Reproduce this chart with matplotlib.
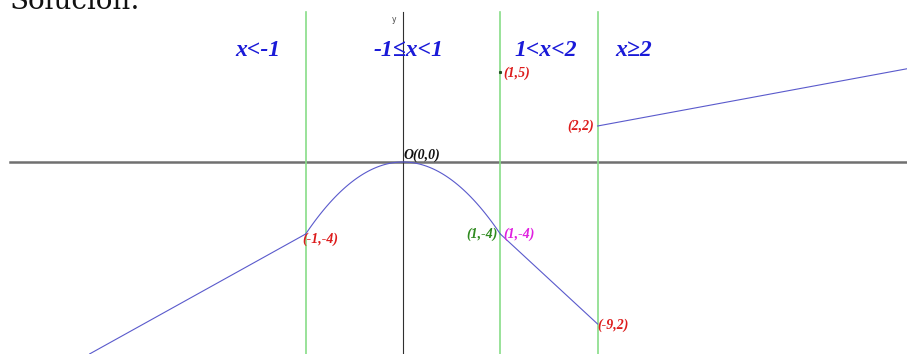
import matplotlib.pyplot as plt
import numpy as np

plt.rcParams["font.family"] = ["Liberation Serif", "DejaVu Serif"]

# piecewise function, key points
x_left = [-3.22, -1.0]          # y = 3x - 1
y_left = [-10.66, -4.0]
x_mid = np.linspace(-1, 1, 101)  # y = -4x^2
x_right = [1.0, 2.0]            # y = -5x + 1
y_right = [-4.0, -9.0]
x_last = [2.0, 5.18]            # y = x
y_last = [2.0, 5.18]
isolated = (1.0, 5.0)

borders = [-1, 1, 2]
interval_labels = ["x<-1", "-1\u2264x<1", "1<x<2", "x\u22652"]
interval_x = [-1.49, 0.06, 1.47, 2.37]

XLIM = (-4.142, 5.18)
YLIM = (-10.667, 9.0)

fig = plt.figure(figsize=(9.07, 3.54), dpi=100)
ax = fig.add_axes([0, 0, 1, 1])
ax.set_xlim(*XLIM)
ax.set_ylim(*YLIM)
ax.axis("off")

# axes
ax.plot([-4.04, XLIM[1]], [0, 0], color="#707070", lw=1.8, zorder=1)
ax.plot([0, 0], [YLIM[0], 8.33], color="#303030", lw=0.8, zorder=1)
ax.text(-0.09, 7.9, "y", fontsize=5.5, color="#444444", family="DejaVu Sans",
        ha="center", va="center")

for b in borders:
    ax.plot([b, b], [YLIM[0], 8.33], color="#88dd88", lw=1.2, zorder=1)

blue = "#5a5acc"
ax.plot(x_left, y_left, color=blue, lw=0.8)
ax.plot(x_mid, -4 * x_mid**2, color=blue, lw=0.8)
ax.plot(x_right, y_right, color=blue, lw=0.8)
ax.plot(x_last, y_last, color=blue, lw=0.8)
ax.plot(*isolated, "s", color="#205020", ms=1.2)

for lab, xl in zip(interval_labels, interval_x):
    ax.text(xl, 6.2, lab, color="#1a1ad8", fontsize=17, fontweight="bold",
            fontstyle="italic", ha="center", va="center")

red = "#dd1c1c"
pt = dict(fontsize=10, fontweight="bold", fontstyle="italic", va="center")
ax.text(1.03, 4.95, "(1,5)", color=red, ha="left", **pt)
ax.text(1.96, 2.0, "(2,2)", color=red, ha="right", **pt)
ax.text(0.0, 0.4, "O(0,0)", color="#111111", ha="left", **pt)
ax.text(-1.04, -4.3, "(-1,-4)", color=red, ha="left", **pt)
ax.text(0.97, -4.0, "(1,-4)", color="#2f8a1f", ha="right", **pt)
ax.text(1.03, -4.0, "(1,-4)", color="#e020e0", ha="left", **pt)
ax.text(2.0, -9.05, "(-9,2)", color=red, ha="left", **pt)

# heading is cut off at the top edge, as in the source
fig.text(0.011, 1 - 9 / 354, "Soluci\u00f3n:", fontsize=20,
         family="DejaVu Serif", color="#111111", va="baseline", ha="left")

fig.savefig("out.png", dpi=100)
